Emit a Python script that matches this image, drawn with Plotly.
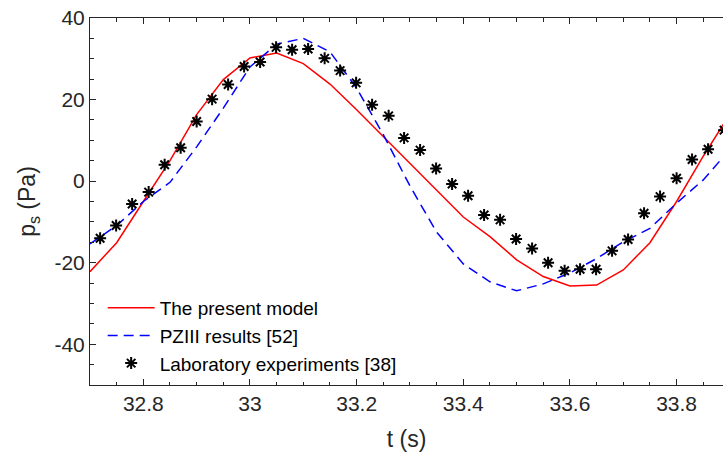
import plotly.graph_objects as go

# Present model (red solid)
model_t = [32.70, 32.75, 32.80, 32.85, 32.90, 32.95, 33.00, 33.05, 33.10, 33.15,
           33.20, 33.25, 33.30, 33.35, 33.40, 33.45, 33.50, 33.55, 33.60, 33.65,
           33.70, 33.75, 33.80, 33.85, 33.90]
model_p = [-22.2, -15.1, -5.0, 5.0, 16.3, 24.9, 30.2, 31.4, 28.8, 23.8,
           17.5, 10.9, 4.4, -2.2, -8.8, -13.6, -19.3, -23.4, -25.7, -25.5,
           -21.8, -15.1, -5.0, 6.1, 16.5]

# PZIII results (blue dashed)
pz_t = [32.70, 32.75, 32.80, 32.85, 32.90, 32.95, 33.00, 33.05, 33.10, 33.15,
        33.20, 33.25, 33.30, 33.35, 33.40, 33.45, 33.50, 33.55, 33.60, 33.65,
        33.70, 33.75, 33.80, 33.85, 33.90]
pz_p = [-15.4, -10.9, -5.0, -0.3, 8.4, 17.9, 28.0, 33.6, 35.0, 31.7,
        22.8, 11.4, -1.2, -12.5, -20.3, -24.7, -26.9, -25.2, -22.5, -19.0,
        -14.9, -11.6, -5.4, 0.3, 7.8]

# Laboratory experiments (black asterisks)
exp_t = [32.719, 32.749, 32.779, 32.810, 32.840, 32.870, 32.900, 32.929, 32.959, 32.989,
         33.019, 33.049, 33.079, 33.109, 33.140, 33.169, 33.199, 33.229, 33.260, 33.289,
         33.319, 33.349, 33.379, 33.409, 33.439, 33.469, 33.499, 33.529, 33.559, 33.590,
         33.619, 33.649, 33.679, 33.709, 33.739, 33.769, 33.800, 33.829, 33.859, 33.889]
exp_p = [-14.0, -10.9, -5.6, -2.7, 4.0, 8.2, 14.6, 20.1, 23.7, 28.1,
         29.2, 32.8, 32.2, 32.4, 30.1, 27.1, 24.1, 18.7, 16.0, 10.6,
         7.6, 3.1, -0.7, -3.6, -8.3, -9.5, -14.2, -16.5, -20.0, -22.0,
         -21.6, -21.6, -17.1, -14.3, -7.9, -3.8, 0.7, 5.3, 7.8, 12.5]

x_tickvals = [32.8, 33.0, 33.2, 33.4, 33.6, 33.8]
x_ticktext = ["32.8", "33", "33.2", "33.4", "33.6", "33.8"]
y_tickvals = [-40, -20, 0, 20, 40]
y_ticktext = ["-40", "-20", "0", "20", "40"]

AX = "#262626"

fig = go.Figure()
fig.add_trace(go.Scatter(x=model_t, y=model_p, mode="lines", name="The present model",
                         line=dict(color="#ff0000", width=1.5)))
fig.add_trace(go.Scatter(x=pz_t, y=pz_p, mode="lines", name="PZIII results [52]",
                         line=dict(color="#0000ff", width=1.5, dash="10px,6px")))
fig.add_trace(go.Scatter(x=exp_t, y=exp_p, mode="markers", name="Laboratory experiments [38]",
                         marker=dict(symbol="asterisk-open", size=10, color="black",
                                     line=dict(color="black", width=2))))

fig.update_layout(
    width=723, height=455,
    margin=dict(l=90, r=0, t=18, b=70),
    plot_bgcolor="white", paper_bgcolor="white",
    font=dict(family="Liberation Sans, Arial, sans-serif", color=AX),
    showlegend=True,
    legend=dict(x=0.02, y=0.262, xanchor="left", yanchor="top",
                bgcolor="rgba(255,255,255,0)", font=dict(size=19, color="black"),
                itemwidth=47, tracegroupgap=0),
)
fig.update_xaxes(
    range=[32.7, 33.887], tickvals=x_tickvals, ticktext=x_ticktext,
    ticks="inside", ticklen=6, tickcolor=AX, tickwidth=1,
    showline=True, linecolor=AX, linewidth=1, mirror="ticks",
    showgrid=False, zeroline=False,
    minor=dict(ticks="inside", ticklen=3.5, dtick=0.05, tick0=32.7, tickcolor=AX, showgrid=False),
    tickfont=dict(size=21, color=AX),
    title=dict(text="t (s)", font=dict(size=23, color=AX), standoff=16),
)
fig.update_yaxes(
    range=[-50, 40], tickvals=y_tickvals, ticktext=y_ticktext,
    ticks="inside", ticklen=6, tickcolor=AX, tickwidth=1,
    showline=True, linecolor=AX, linewidth=1, mirror=False,
    showgrid=False, zeroline=False,
    minor=dict(ticks="inside", ticklen=3.5, dtick=5, tick0=0, tickcolor=AX, showgrid=False),
    tickfont=dict(size=21, color=AX),
    title=dict(text="p<sub>s</sub> (Pa)", font=dict(size=23, color=AX), standoff=12),
)

fig.write_html("out.html")
